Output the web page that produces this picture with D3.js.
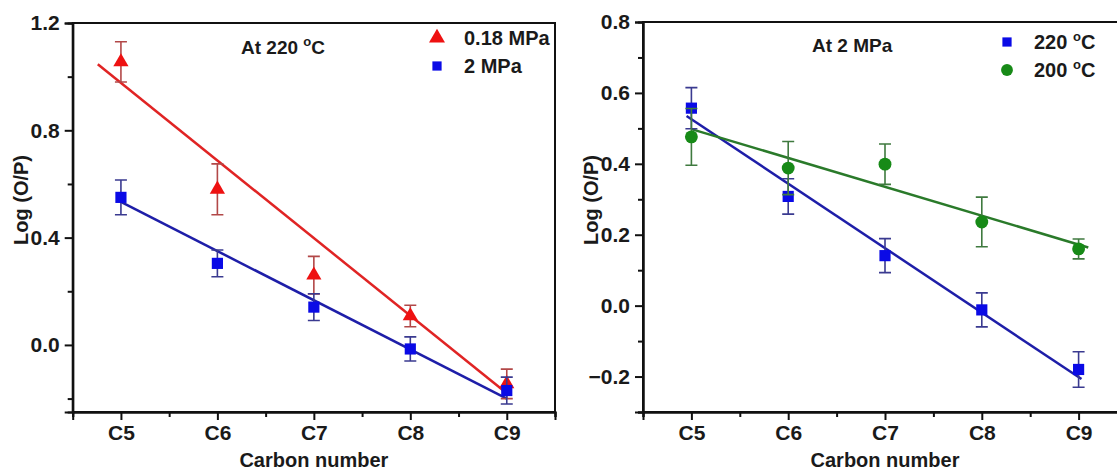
<!DOCTYPE html>
<html>
<head>
<meta charset="utf-8">
<script src="https://cdn.jsdelivr.net/npm/d3@7"></script>
<style>
  body { margin: 0; background: #fff; }
  svg { display: block; font-family: "Liberation Sans", Arial, sans-serif; font-weight: bold; }
</style>
</head>
<body>
<div id="chart"></div>
<script>
// carbon numbers (x positions) and their tick labels
var carbons = [5, 6, 7, 8, 9];
var carbonLabels = ["C5", "C6", "C7", "C8", "C9"];

// left panel: at 220 oC
var p018 = [1.055, 0.58, 0.26, 0.108, -0.145];
var p018Err = [0.075, 0.095, 0.07, 0.04, 0.055];
var p2 = [0.55, 0.304, 0.141, -0.015, -0.17];
var p2Err = [0.065, 0.05, 0.05, 0.045, 0.05];
var p018Fit = [[4.76, 1.046], [9.0, -0.18]];
var p2Fit = [[5.0, 0.533], [9.0, -0.2]];
var leftYTicks = [0.0, 0.4, 0.8, 1.2];
var leftYMinor = [-0.2, 0.2, 0.6, 1.0];

// right panel: at 2 MPa
var t220 = [0.557, 0.308, 0.141, -0.012, -0.18];
var t220Err = [0.058, 0.05, 0.048, 0.048, 0.05];
var t200 = [0.476, 0.388, 0.399, 0.236, 0.16];
var t200Err = [0.08, 0.075, 0.057, 0.07, 0.028];
var t220Fit = [[4.95, 0.535], [9.03, -0.207]];
var t200Fit = [[5.0, 0.498], [9.1, 0.164]];
var rightYTicks = [-0.2, 0.0, 0.2, 0.4, 0.6, 0.8];
var rightYMinor = [-0.3, -0.1, 0.1, 0.3, 0.5, 0.7];

var xMinor = [4.5, 5.5, 6.5, 7.5, 8.5, 9.5];

var svg = d3.select("#chart").append("svg")
    .attr("width", 1117)
    .attr("height", 470);

function zip(vals, errs) {
  return carbons.map(function(c, i) { return {x: c, y: vals[i], e: errs[i]}; });
}

function panel(opt) {
  var x = d3.scaleLinear().domain([4.5, 9.5]).range([opt.left, opt.right]);
  var y = d3.scaleLinear().domain(opt.yDomain).range([412, opt.top]);
  var g = svg.append("g");

  // frame
  g.append("rect")
      .attr("x", opt.left).attr("y", opt.top)
      .attr("width", opt.right - opt.left).attr("height", 412 - opt.top)
      .attr("fill", "none").attr("stroke", "#111").attr("stroke-width", 2);

  g.append("g")
      .attr("transform", "translate(0,412)")
      .call(d3.axisBottom(x).tickValues(carbons).tickSize(8).tickPadding(5)
        .tickFormat(function(d, i) { return carbonLabels[i]; }));
  g.append("g")
      .attr("transform", "translate(0,412)")
      .call(d3.axisBottom(x).tickValues(xMinor).tickSize(5).tickFormat(""));

  g.append("g")
      .attr("transform", "translate(" + opt.left + ",0)")
      .call(d3.axisLeft(y).tickValues(opt.yTicks).tickSize(8).tickPadding(5)
        .tickFormat(d3.format(".1f")));
  g.append("g")
      .attr("transform", "translate(" + opt.left + ",0)")
      .call(d3.axisLeft(y).tickValues(opt.yMinor).tickSize(5).tickFormat(""));

  g.selectAll(".domain").attr("stroke", "#111").attr("stroke-width", 2);
  g.selectAll(".tick line").attr("stroke", "#111").attr("stroke-width", 2);
  g.selectAll(".tick text")
      .attr("fill", "#1a1a1a")
      .style("font-size", "21px")
      .style("font-family", "'Liberation Sans', Arial, sans-serif")
      .style("font-weight", "bold");

  // axis titles
  g.append("text")
      .attr("x", (opt.left + opt.right) / 2)
      .attr("y", 467)
      .attr("text-anchor", "middle")
      .attr("fill", "#1a1a1a")
      .style("font-size", "20px")
      .text("Carbon number");
  g.append("text")
      .attr("transform", "translate(" + (opt.left - 45) + ",200) rotate(-90)")
      .attr("text-anchor", "middle")
      .attr("fill", "#1a1a1a")
      .style("font-size", "20px")
      .text("Log (O/P)");

  var line = d3.line().x(function(d) { return x(d[0]); }).y(function(d) { return y(d[1]); });

  opt.series.forEach(function(s) {
    g.append("path")
        .datum(s.fit)
        .attr("d", line)
        .attr("fill", "none")
        .attr("stroke", s.lineColor)
        .attr("stroke-width", 2.5);
  });

  opt.series.forEach(function(s) {
    var pts = zip(s.values, s.errs);
    var eb = g.append("g").attr("stroke", s.errColor).attr("stroke-width", 1.6).attr("fill", "none");
    eb.selectAll("path").data(pts).enter().append("path")
        .attr("d", function(d) {
          var cx = x(d.x), y0 = y(d.y - d.e), y1 = y(d.y + d.e);
          return "M" + (cx - 6) + "," + y1 + "H" + (cx + 6) +
                 "M" + cx + "," + y1 + "V" + y0 +
                 "M" + (cx - 6) + "," + y0 + "H" + (cx + 6);
        });
    g.append("g").selectAll("path").data(pts).enter().append("path")
        .attr("transform", function(d) { return "translate(" + x(d.x) + "," + y(d.y) + ")"; })
        .attr("d", d3.symbol().type(s.symbol).size(s.size))
        .attr("fill", s.color);
  });

  // legend
  var lg = g.append("g");
  opt.series.forEach(function(s, i) {
    var ly = opt.legendY + i * 28;
    lg.append("path")
        .attr("transform", "translate(" + opt.legendX + "," + ly + ")")
        .attr("d", d3.symbol().type(s.symbol).size(s.legendSize))
        .attr("fill", s.color);
    var t = lg.append("text")
        .attr("x", opt.legendX + 27)
        .attr("y", ly + 7)
        .attr("fill", "#1a1a1a")
        .style("font-size", "20px");
    addLabel(t, s.name);
  });

  var title = g.append("text")
      .attr("x", opt.titleX)
      .attr("y", opt.titleY)
      .attr("fill", "#1a1a1a")
      .style("font-size", "19px");
  addLabel(title, opt.title);
}

// label with a raised "o" in place of the degree sign
function addLabel(t, str) {
  var parts = str.split("°");
  t.append("tspan").text(parts[0]);
  if (parts.length > 1) {
    t.append("tspan").attr("dy", -8).style("font-size", "13px").text("o");
    t.append("tspan").attr("dy", 8).text(parts[1]);
  }
}

panel({
  left: 72.7, right: 555, top: 23,
  yDomain: [-0.25, 1.2], yTicks: leftYTicks, yMinor: leftYMinor,
  title: "At 220 °C", titleX: 241, titleY: 54,
  legendX: 437, legendY: 38,
  series: [
    {name: "0.18 MPa", values: p018, errs: p018Err, fit: p018Fit, symbol: d3.symbolTriangle,
     size: 100, legendSize: 110, color: "#ee1111", lineColor: "#e02424", errColor: "#b24848"},
    {name: "2 MPa", values: p2, errs: p2Err, fit: p2Fit, symbol: d3.symbolSquare,
     size: 125, legendSize: 85, color: "#0a0ae6", lineColor: "#1e1ea8", errColor: "#3a3a90"}
  ]
});

panel({
  left: 643, right: 1127, top: 22,
  yDomain: [-0.3, 0.8], yTicks: rightYTicks, yMinor: rightYMinor,
  title: "At 2 MPa", titleX: 812, titleY: 52,
  legendX: 1007, legendY: 42,
  series: [
    {name: "220 °C", values: t220, errs: t220Err, fit: t220Fit, symbol: d3.symbolSquare,
     size: 125, legendSize: 85, color: "#0a0ae6", lineColor: "#1e1ea8", errColor: "#3a3a90"},
    {name: "200 °C", values: t200, errs: t200Err, fit: t200Fit, symbol: d3.symbolCircle,
     size: 130, legendSize: 110, color: "#178a17", lineColor: "#2a7a2a", errColor: "#3f7a3f"}
  ]
});
</script>
</body>
</html>
